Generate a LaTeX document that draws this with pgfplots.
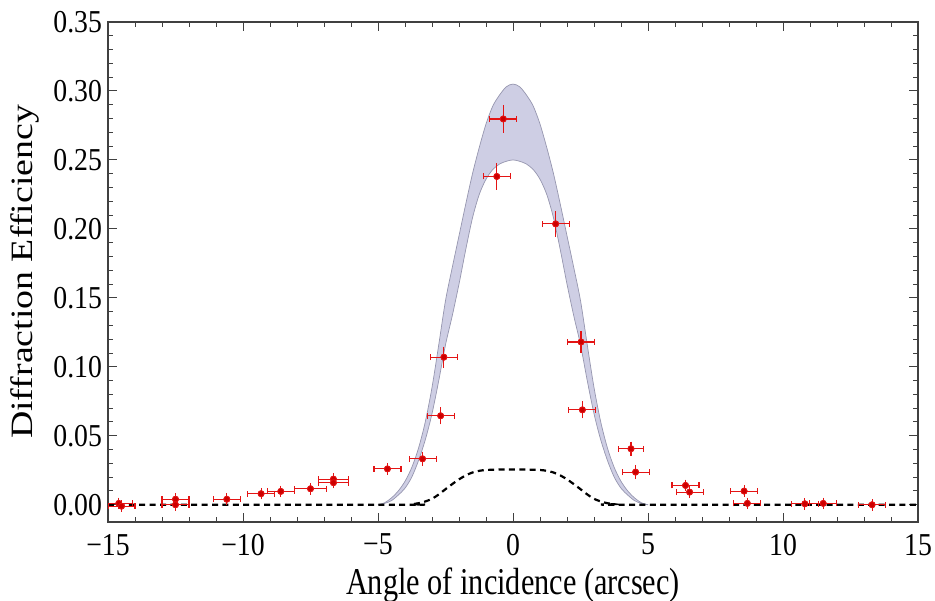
\documentclass[border=0pt]{standalone}
\usepackage{fontspec}
\setmainfont{Liberation Serif}
\newfontfamily\tickfont{Liberation Serif}[FakeStretch=0.87]
\newfontfamily\labfont{Liberation Serif}[FakeStretch=0.8]
\usepackage{graphicx}
\usepackage{pgfplots}
\pgfplotsset{compat=1.18}
\usepgfplotslibrary{fillbetween}
\usepackage{pgfplotstable}

\definecolor{bandfill}{RGB}{206,206,228}
\definecolor{bandedge}{RGB}{150,150,175}
\definecolor{ptred}{RGB}{228,20,20}
\definecolor{ptdark}{RGB}{205,0,0}

\pgfplotstableread{
x y
-5 0
-4.75 0.0015
-4.5 0.005
-4.25 0.010
-4 0.017
-3.75 0.027
-3.5 0.041
-3.25 0.060
-3 0.085
-2.75 0.116
-2.5 0.148
-2.25 0.172
-2 0.195
-1.75 0.218
-1.5 0.240
-1.25 0.259
-1 0.276
-0.75 0.289
-0.5 0.297
-0.25 0.303
0 0.305
0.25 0.303
0.5 0.297
0.75 0.289
1 0.276
1.25 0.259
1.5 0.240
1.75 0.218
2 0.195
2.25 0.172
2.5 0.148
2.75 0.116
3 0.085
3.25 0.060
3.5 0.041
3.75 0.027
4 0.017
4.25 0.010
4.5 0.005
4.75 0.0015
5 0
}\bandup

\pgfplotstableread{
x y
-5 0
-4.75 0.001
-4.5 0.003
-4.25 0.007
-4 0.012
-3.75 0.020
-3.5 0.032
-3.25 0.047
-3 0.066
-2.75 0.090
-2.5 0.116
-2.25 0.137
-2 0.160
-1.75 0.185
-1.5 0.208
-1.25 0.225
-1 0.236
-0.75 0.243
-0.5 0.247
-0.25 0.249
0 0.250
0.25 0.249
0.5 0.247
0.75 0.243
1 0.236
1.25 0.225
1.5 0.208
1.75 0.185
2 0.160
2.25 0.137
2.5 0.116
2.75 0.090
3 0.066
3.25 0.047
3.5 0.032
3.75 0.020
4 0.012
4.25 0.007
4.5 0.003
4.75 0.001
5 0
}\bandlo

\pgfplotstableread{
x y
-15 0
-4 0
-3.75 0.0004
-3.5 0.0011
-3.25 0.0024
-3 0.0043
-2.75 0.0075
-2.5 0.0113
-2.25 0.0150
-2 0.0184
-1.75 0.0213
-1.5 0.0234
-1.25 0.0246
-1 0.0252
-0.5 0.0255
0 0.0255
0.5 0.0255
1 0.0252
1.25 0.0246
1.5 0.0234
1.75 0.0213
2 0.0184
2.25 0.0150
2.5 0.0113
2.75 0.0075
3 0.0043
3.25 0.0024
3.5 0.0011
3.75 0.0004
4 0
15 0
}\modeltab

\pgfplotstableread{
x y ex ey
-14.6 0.001 0.5 0.002
-14.5 -0.001 0.5 0.002
-12.5 0.004 0.5 0.002
-12.5 0.000 0.5 0.002
-10.6 0.004 0.5 0.002
-9.33 0.008 0.5 0.002
-8.6 0.0097 0.5 0.002
-7.5 0.0116 0.6 0.002
-6.65 0.0186 0.55 0.002
-6.65 0.016 0.55 0.002
-4.65 0.026 0.5 0.002
-3.35 0.0333 0.5 0.003
-2.68 0.0645 0.5 0.004
-2.56 0.107 0.5 0.0055
-0.6 0.238 0.5 0.0075
-0.36 0.2797 0.5 0.008
1.58 0.2036 0.5 0.007
2.52 0.118 0.5 0.0055
2.57 0.0688 0.5 0.004
4.37 0.0406 0.45 0.003
4.54 0.0237 0.5 0.003
6.39 0.014 0.5 0.002
6.54 0.0092 0.5 0.002
8.56 0.0099 0.5 0.002
8.68 0.001 0.5 0.002
10.81 0.0007 0.5 0.002
11.49 0.001 0.5 0.002
13.3 0.0 0.5 0.002
}\meas

\begin{document}
\begin{tikzpicture}
\begin{axis}[
  width=405bp, height=250bp, scale only axis,
  xmin=-15, xmax=15, ymin=-0.0125, ymax=0.35,
  xtick={-15,-10,-5,0,5,10,15},
  xticklabels={−15,−10,−5,0,5,10,15},
  ytick={0,0.05,0.1,0.15,0.2,0.25,0.3,0.35},
  yticklabels={0.00,0.05,0.10,0.15,0.20,0.25,0.30,0.35},
  minor x tick num=4, minor y tick num=4,
  tick align=inside,
  major tick length=4.5bp, minor tick length=2.5bp,
  tick label style={font=\tickfont\fontsize{16}{18}\selectfont},
  xticklabel style={yshift=-2.5bp},
  yticklabel style={xshift=0.5bp},
  xlabel={Angle of incidence (arcsec)},
  xlabel style={font=\labfont\fontsize{19}{21}\selectfont,
    at={(axis description cs:0.5,0)}, anchor=base, yshift=-36bp},
  ylabel={\scalebox{1}[0.82]{Diffraction Efficiency}},
  ylabel style={font=\fontsize{19}{21}\selectfont,
    at={(axis description cs:-0.1025,0.5)}, anchor=center},
  axis line style={black!75, line width=0.6bp},
  tick style={black!75, line width=0.5bp},
]
\addplot[name path=up, draw=bandedge, line width=0.35bp, smooth] table[x=x,y=y]{\bandup};
\addplot[name path=lo, draw=bandedge, line width=0.35bp, smooth] table[x=x,y=y]{\bandlo};
\addplot[bandfill, draw=none] fill between[of=up and lo];
\addplot[black, line width=1.1bp, dash pattern=on 3bp off 2.2bp, smooth] table[x=x,y=y]{\modeltab};
\addplot[draw=ptred, color=ptred, only marks, mark=*, mark size=1.5bp,
  mark options={fill=ptdark, draw=ptred, solid},
  error bars/.cd, x dir=both, x explicit,
  error bar style={draw=ptred, color=ptred, line width=0.55bp, solid},
  error mark options={draw=ptred, color=ptred, mark size=1.5bp, line width=0.55bp, rotate=90}]
  table[x=x, y=y, x error=ex]{\meas};
\addplot[draw=ptred, color=ptred, only marks, mark=*, mark size=1.5bp,
  mark options={fill=ptdark, draw=ptred, solid},
  error bars/.cd, y dir=both, y explicit,
  error bar style={draw=ptred, color=ptred, line width=0.55bp, solid},
  error mark options={draw=ptred, color=ptred, mark size=1.5bp, line width=0.55bp}]
  table[x=x, y=y, y error=ey]{\meas};
\end{axis}
\pgfresetboundingbox
\path[use as bounding box] ([xshift=-54bp,yshift=-39.5bp]current axis.south west) rectangle ([xshift=8.5bp,yshift=11bp]current axis.north east);
\end{tikzpicture}
\end{document}
